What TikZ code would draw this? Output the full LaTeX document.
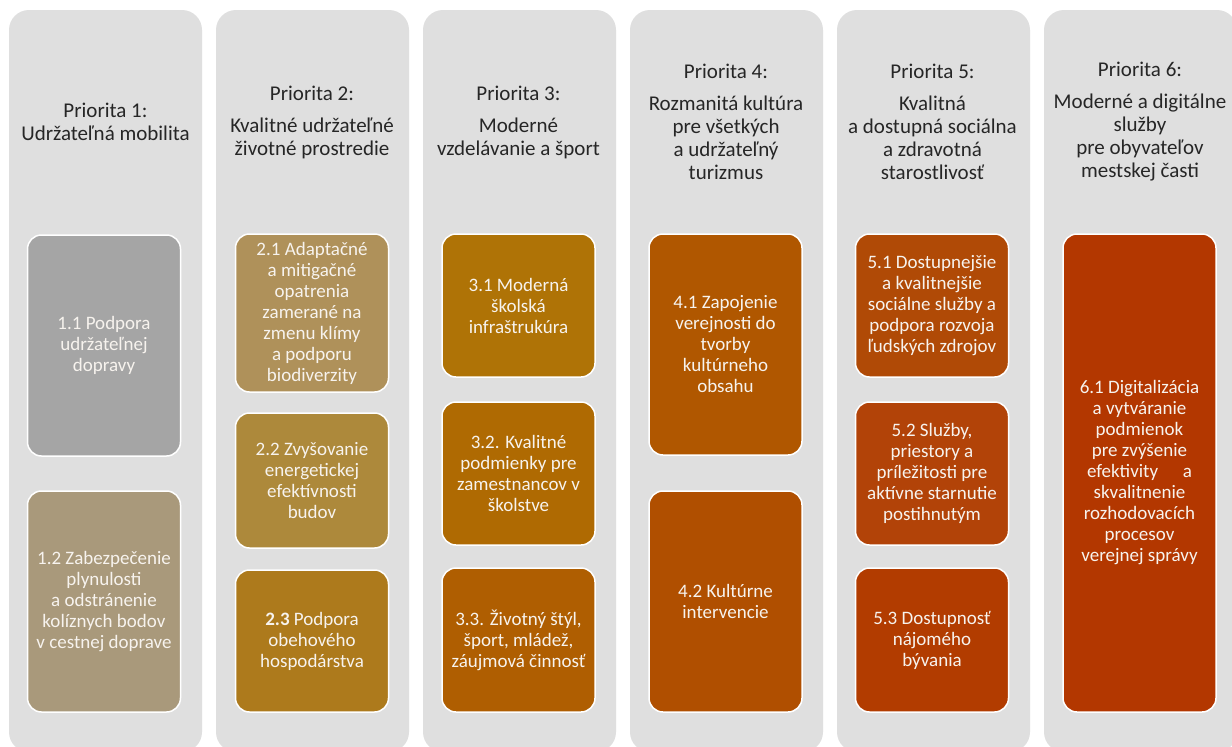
\documentclass[tikz,border=0pt]{standalone}
\usepackage{fontspec}
\setmainfont{Carlito}

\definecolor{colbg}{HTML}{DFDFDF}
\definecolor{headtxt}{HTML}{262626}
\definecolor{boxtxt}{HTML}{F7F3EE}
\definecolor{c11}{HTML}{A5A5A5}
\definecolor{c12}{HTML}{A9997B}
\definecolor{c21}{HTML}{AF915A}
\definecolor{c22}{HTML}{AD893B}
\definecolor{c23}{HTML}{AD7A1C}
\definecolor{c31}{HTML}{AF7306}
\definecolor{c32}{HTML}{AF6A02}
\definecolor{c33}{HTML}{AF5E01}
\definecolor{c41}{HTML}{B05700}
\definecolor{c42}{HTML}{B04F00}
\definecolor{c51}{HTML}{B04A06}
\definecolor{c52}{HTML}{B24308}
\definecolor{c53}{HTML}{B23C00}
\definecolor{c61}{HTML}{B33700}

\tikzset{
	column/.style={fill=colbg, rounded corners=20pt, minimum width=193pt, minimum height=742pt, inner sep=0pt},
	head/.style={text=headtxt, align=center, font=\fontsize{21}{23}\selectfont},
	box/.style={draw=white, line width=1.5pt, rounded corners=14pt, minimum width=153pt, inner sep=0pt,
		text=boxtxt, align=center, font=\fontsize{19}{21}\selectfont},
}

\begin{document}
\begin{tikzpicture}[x=1pt,y=-1pt]
	\clip (0,0) rectangle (1232,747);
	\fill[white] (0,0) rectangle (1232,747);

	\node[column] (P1) at (105.5,381) {};
	\node[column] (P2) at (312.5,381) {};
	\node[column] (P3) at (519.5,381) {};
	\node[column] (P4) at (726.5,381) {};
	\node[column] (P5) at (933.5,381) {};
	\node[column] (P6) at (1140.5,381) {};

	\node[head] (H1) at (105.5,122) {Priorita 1:\\Udržateľná mobilita};
	\node[head] (H2) at (312,122) {Priorita 2:\\[9pt]Kvalitné udržateľné\\životné prostredie};
	\node[head] (H3) at (518.5,122) {Priorita 3:\\[9pt]Moderné\\vzdelávanie a šport};
	\node[head] (H4) at (726,122) {Priorita 4:\\[9pt]Rozmanitá kultúra\\pre všetkých\\a udržateľný\\turizmus};
	\node[head] (H5) at (932.5,122) {Priorita 5:\\[9pt]Kvalitná\\a dostupná sociálna\\a zdravotná\\starostlivosť};
	\node[head] (H6) at (1140,122) {Priorita 6:\\[9pt]Moderné a digitálne\\služby\\pre obyvateľov\\mestskej časti};

	\node[box, fill=c11, minimum height=221pt] (B11) at (104,345.5) {1.1 Podpora\\udržateľnej\\dopravy};
	\node[box, fill=c12, minimum height=221pt] (B12) at (104,601.5) {1.2 Zabezpečenie\\plynulosti\\a odstránenie\\kolíznych bodov\\v cestnej doprave};

	\node[box, fill=c21, minimum height=158pt] (B21) at (312,313) {2.1 Adaptačné\\a mitigačné\\opatrenia\\zamerané na\\zmenu klímy\\a podporu\\biodiverzity};
	\node[box, fill=c22, minimum height=135pt] (B22) at (312,480.5) {2.2 Zvyšovanie\\energetickej\\efektívnosti\\budov};
	\node[box, fill=c23, minimum height=142pt] (B23) at (312,641) {\textbf{2.3} Podpora\\obehového\\hospodárstva};

	\node[box, fill=c31, minimum height=143pt] (B31) at (518.5,305.5) {3.1 Moderná\\školská\\infraštrukúra};
	\node[box, fill=c32, minimum height=143pt] (B32) at (518.5,473.5) {3.2. Kvalitné\\podmienky pre\\zamestnancov v\\školstve};
	\node[box, fill=c33, minimum height=144pt] (B33) at (518.5,640) {3.3. Životný štýl,\\šport, mládež,\\záujmová činnosť};

	\node[box, fill=c41, minimum height=221pt] (B41) at (725.5,344.5) {4.1 Zapojenie\\verejnosti do\\tvorby\\kultúrneho\\obsahu};
	\node[box, fill=c42, minimum height=221pt] (B42) at (725.5,601.5) {4.2 Kultúrne\\intervencie};

	\node[box, fill=c51, minimum height=143pt] (B51) at (932,305.5) {5.1 Dostupnejšie\\a kvalitnejšie\\sociálne služby a\\podpora rozvoja\\ľudských zdrojov};
	\node[box, fill=c52, minimum height=143pt] (B52) at (932,473.5) {5.2 Služby,\\priestory a\\príležitosti pre\\aktívne starnutie\\postihnutým};
	\node[box, fill=c53, minimum height=144pt] (B53) at (932,640) {5.3 Dostupnosť\\nájomého\\bývania};

	\node[box, fill=c61, minimum height=478pt] (B61) at (1139.5,473) {6.1 Digitalizácia\\a vytváranie\\podmienok\\pre zvýšenie\\efektivity\hspace{1.3em}a\\skvalitnenie\\rozhodovacích\\procesov\\verejnej správy};
\end{tikzpicture}
\end{document}
